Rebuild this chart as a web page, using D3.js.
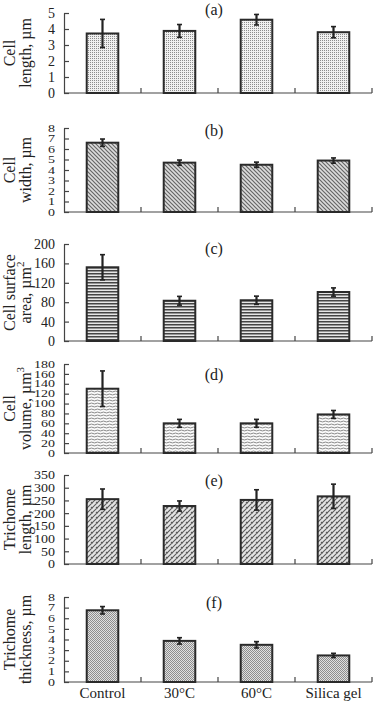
<!DOCTYPE html>
<html>
<head>
<meta charset="utf-8">
<script src="https://cdn.jsdelivr.net/npm/d3@7"></script>
<style>
  html, body { margin: 0; padding: 0; background: #fff; }
  svg { display: block; }
  text { font-family: "Liberation Serif", "Times New Roman", serif; fill: #222; }
</style>
</head>
<body>
<svg id="chart" width="374" height="705"></svg>
<script>
// ---------- data ----------
const categories = ["Control", "30°C", "60°C", "Silica gel"];

const cellLength = [3.72, 3.88, 4.58, 3.8];
const cellLengthErr = [0.88, 0.4, 0.33, 0.35];

const cellWidth = [6.6, 4.7, 4.5, 4.9];
const cellWidthErr = [0.35, 0.25, 0.25, 0.25];

const cellArea = [152, 83, 84, 101];
const cellAreaErr = [26, 9, 8.5, 8.5];

const cellVolume = [130, 60, 60, 78];
const cellVolumeErr = [36, 8, 8, 8];

const trichomeLength = [255, 228, 252, 266];
const trichomeLengthErr = [40, 20, 40, 48];

const trichomeThickness = [6.75, 3.87, 3.5, 2.5];
const trichomeThicknessErr = [0.35, 0.3, 0.3, 0.2];

const ticksA = [0, 1, 2, 3, 4, 5];
const ticksB = [0, 1, 2, 3, 4, 5, 6, 7, 8];
const ticksC = [0, 40, 80, 120, 160, 200];
const ticksD = [0, 20, 40, 60, 80, 100, 120, 140, 160, 180];
const ticksE = [0, 50, 100, 150, 200, 250, 300, 350];
const ticksF = [0, 1, 2, 3, 4, 5, 6, 7, 8];

const panelLetters = ["(a)", "(b)", "(c)", "(d)", "(e)", "(f)"];
const titleLine1 = ["Cell", "Cell", "Cell surface", "Cell", "Trichome", "Trichome"];
const titleLine2 = ["length, µm", "width, µm", "area, µm", "volume, µm", "length, µm", "thickness, µm"];
const titleSup = ["", "", "2", "3", "", ""];

// ---------- layout ----------
const panels = [
  { values: cellLength, errs: cellLengthErr, ticks: ticksA, top: 13, bottom: 93, letterY: 15, pat: "pa", squeeze: 1 },
  { values: cellWidth, errs: cellWidthErr, ticks: ticksB, top: 128, bottom: 212, letterY: 136, pat: "pb", squeeze: 0.72 },
  { values: cellArea, errs: cellAreaErr, ticks: ticksC, top: 244, bottom: 341, letterY: 254, pat: "pc", squeeze: 1 },
  { values: cellVolume, errs: cellVolumeErr, ticks: ticksD, top: 364, bottom: 453, letterY: 380, pat: "pd", squeeze: 0.7 },
  { values: trichomeLength, errs: trichomeLengthErr, ticks: ticksE, top: 475, bottom: 564, letterY: 486, pat: "pe", squeeze: 0.88 },
  { values: trichomeThickness, errs: trichomeThicknessErr, ticks: ticksF, top: 597, bottom: 682, letterY: 608, pat: "pf", squeeze: 0.7 }
];

const xLeft = 64, xRight = 372;
const svg = d3.select("#chart");

// ---------- patterns ----------
const defs = svg.append("defs");
function pattern(id, w, h) {
  return defs.append("pattern").attr("id", id).attr("patternUnits", "userSpaceOnUse")
    .attr("width", w).attr("height", h);
}
let p = pattern("pa", 2, 2);
p.append("rect").attr("width", 2).attr("height", 2).attr("fill", "#f0f0f0");
p.append("rect").attr("width", 1).attr("height", 1).attr("fill", "#8c8c8c");

p = pattern("pb", 4, 4);
p.append("rect").attr("width", 4).attr("height", 4).attr("fill", "#dcdcdc");
p.append("path").attr("d", "M0,0L4,4M-1,3L1,5M3,-1L5,1").attr("stroke", "#666").attr("stroke-width", 1.2);

p = pattern("pc", 4, 3);
p.append("rect").attr("width", 4).attr("height", 3).attr("fill", "#e6e6e6");
p.append("rect").attr("width", 4).attr("height", 1.5).attr("fill", "#444");

p = pattern("pd", 6, 3);
p.append("rect").attr("width", 6).attr("height", 3).attr("fill", "#fafafa");
p.append("path").attr("d", "M0,1.5Q1.5,0.6 3,1.5T6,1.5").attr("fill", "none").attr("stroke", "#8a8a8a").attr("stroke-width", 1);

p = pattern("pe", 5, 5);
p.append("rect").attr("width", 5).attr("height", 5).attr("fill", "#e4e4e4");
p.append("path").attr("d", "M0,5L5,0M-1,1L1,-1M4,6L6,4M1,2L2.5,3.5").attr("stroke", "#5a5a5a").attr("stroke-width", 1.1);

p = pattern("pf", 2, 2);
p.append("rect").attr("width", 2).attr("height", 2).attr("fill", "#e0e0e0");
p.append("rect").attr("width", 1).attr("height", 1).attr("fill", "#8e8e8e");
p.append("rect").attr("x", 1).attr("y", 1).attr("width", 1).attr("height", 1).attr("fill", "#8e8e8e");

// ---------- scales ----------
const x = d3.scaleBand().domain(categories).range([xLeft, xRight]).paddingInner(0).paddingOuter(0);
const barW = x.bandwidth() * 0.41;

panels.forEach((pn, i) => {
  const g = svg.append("g");
  const ymax = pn.ticks[pn.ticks.length - 1];
  const y = d3.scaleLinear().domain([0, ymax]).range([pn.bottom, pn.top]);

  // y axis (ticks inward)
  const yAxis = d3.axisLeft(y).tickValues(pn.ticks).tickFormat(d3.format("d"))
    .tickSize(-5).tickPadding(9).tickSizeOuter(0);
  const ya = g.append("g").attr("transform", `translate(${xLeft},0)`).call(yAxis);
  ya.attr("font-family", null);
  ya.select(".domain").attr("stroke", "#444").attr("stroke-width", 1.2);
  ya.selectAll(".tick line").attr("stroke", "#444").attr("stroke-width", 1.2);
  ya.selectAll(".tick text").attr("font-size", 14).attr("fill", "#222")
    .style("font-family", "Liberation Serif, serif")
    .attr("transform", `scale(1,${pn.squeeze})`);

  // x axis line + separator ticks (upward)
  const bounds = categories.map(c => x(c) + x.bandwidth());
  g.append("line").attr("x1", xLeft).attr("x2", xRight).attr("y1", pn.bottom).attr("y2", pn.bottom)
    .attr("stroke", "#444").attr("stroke-width", 1.2);
  g.selectAll(".sep").data(bounds).enter().append("line")
    .attr("x1", d => d).attr("x2", d => d).attr("y1", pn.bottom).attr("y2", pn.bottom - 5)
    .attr("stroke", "#444").attr("stroke-width", 1.2);

  // bars
  g.selectAll(".bar").data(pn.values).enter().append("rect")
    .attr("x", (d, j) => x(categories[j]) + (x.bandwidth() - barW) / 2)
    .attr("y", d => y(d))
    .attr("width", barW)
    .attr("height", d => pn.bottom - y(d))
    .attr("fill", `url(#${pn.pat})`)
    .attr("stroke", "#2a2a2a").attr("stroke-width", 2);

  // error bars
  pn.values.forEach((v, j) => {
    const cx = x(categories[j]) + x.bandwidth() / 2;
    const e = pn.errs[j];
    g.append("line").attr("x1", cx).attr("x2", cx).attr("y1", y(v + e)).attr("y2", y(v - e))
      .attr("stroke", "#222").attr("stroke-width", 2.2);
    [v + e, v - e].forEach(t => {
      g.append("line").attr("x1", cx - 2.5).attr("x2", cx + 2.5).attr("y1", y(t)).attr("y2", y(t))
        .attr("stroke", "#222").attr("stroke-width", 1.6);
    });
  });

  // panel letter
  g.append("text").attr("x", 214).attr("y", pn.letterY).attr("text-anchor", "middle")
    .attr("font-size", 16).text(panelLetters[i]);

  // y title (two lines, rotated)
  const cy = (pn.top + pn.bottom) / 2;
  g.append("text").attr("transform", `translate(15,${cy}) rotate(-90)`).attr("text-anchor", "middle")
    .attr("font-size", 16).text(titleLine1[i]);
  const t2 = g.append("text").attr("transform", `translate(31,${cy}) rotate(-90)`).attr("text-anchor", "middle")
    .attr("font-size", 16).text(titleLine2[i]);
  if (titleSup[i]) {
    t2.append("tspan").attr("font-size", 11).attr("dy", -7).text(titleSup[i]);
  }

  // x labels only for the last panel
  if (i === panels.length - 1) {
    g.selectAll(".xl").data(categories).enter().append("text")
      .attr("x", d => x(d) + x.bandwidth() / 2).attr("y", pn.bottom + 16)
      .attr("text-anchor", "middle").attr("font-size", 15).text(d => d);
  }
});
</script>
</body>
</html>
